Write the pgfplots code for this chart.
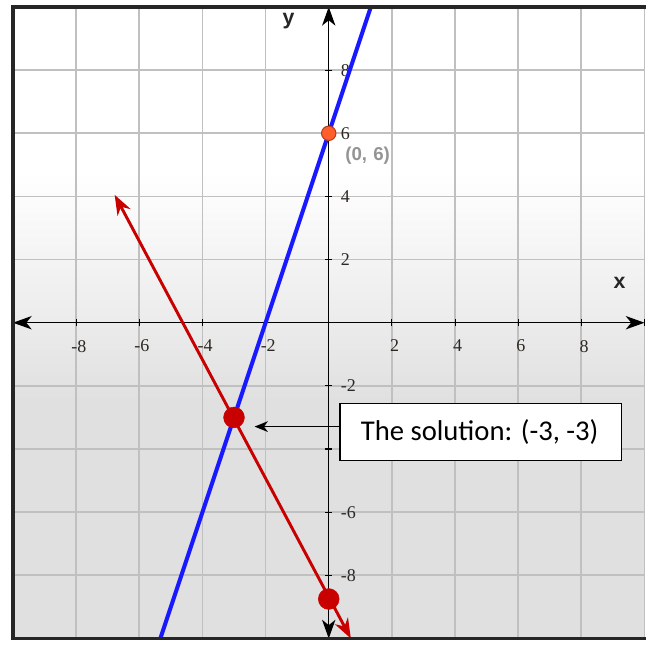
\documentclass[border=0pt]{standalone}
\usepackage{pgfplots}
\pgfplotsset{compat=1.18}
\usepackage{fontspec}
\setmainfont{Liberation Serif}
\newfontfamily\carlito{Carlito}
\newfontfamily\lsans{Liberation Sans}
\usetikzlibrary{arrows.meta}
\definecolor{myblue}{RGB}{25,25,255}
\definecolor{myred}{RGB}{200,0,0}
\definecolor{myorange}{RGB}{255,95,45}
\definecolor{myorangedk}{RGB}{190,60,20}
\definecolor{gridgray}{RGB}{192,192,192}
\definecolor{ticklab}{RGB}{45,40,35}
\pgfdeclareverticalshading{bgshade}{100bp}{color(0bp)=(black!12); color(44bp)=(black!12); color(51bp)=(black!7); color(62bp)=(white); color(100bp)=(white)}

\begin{document}
\begin{tikzpicture}
\begin{axis}[name=ax, scale only axis, width=474pt, height=474pt,
  xmin=-10, xmax=10, ymin=-10, ymax=10,
  axis lines*=middle,
  axis background/.style={shade, shading=bgshade},
  axis line style={black, line width=1.1pt, {Stealth[length=14pt,width=10pt,inset=4pt]}-{Stealth[length=14pt,width=10pt,inset=4pt]}},
  xtick={-10,-8,...,10}, ytick={-10,-8,...,10},
  xticklabels={,-8,-6,-4,-2,,2,4,6,8,},
  yticklabels={,-8,-6,,-2,,2,4,6,8,},
  grid=major,
  major grid style={gridgray, line width=1.3pt},
  tick style={black, line width=0.8pt},
  major tick length=5pt, tick align=center,
  /pgf/number format/assume math mode=true,
  ticklabel style={font=\fontsize{13.5}{15}\selectfont, text=ticklab},
  xticklabel style={anchor=north, yshift=-7pt, xshift=2pt},
  yticklabel style={anchor=west, xshift=8pt},
  clip=true,
]
\addplot[myblue, line width=3pt] coordinates {(-5.3333,-10) (1.3333,10)};
\addplot[myred, line width=2.2pt, {Stealth[length=15pt,width=11pt]}-{Stealth[length=15pt,width=11pt]}] coordinates {(-6.78,4.05) (0.7,-10.0)};
\addplot[only marks, mark=*, mark size=7.8pt, color=myred] coordinates {(-3,-3) (0,-8.75)};
\addplot[only marks, mark=*, mark size=5.4pt, draw=myorangedk, fill=myorange, line width=0.8pt] coordinates {(0,6)};

\node[text=black!42, font=\lsans\bfseries\fontsize{14}{16}\selectfont] at (axis cs:1.23,5.28) {(0,\,\,6)};
\node[text=black!85, font=\lsans\bfseries\fontsize{16}{18}\selectfont] at (axis cs:9.21,1.27) {x};
\node[text=black!85, font=\lsans\bfseries\fontsize{16}{18}\selectfont] at (axis cs:-1.27,9.56) {y};

\draw[black, line width=1.1pt, -{Stealth[length=10pt,width=8pt,inset=3pt]}] (axis cs:0.35,-3.29) -- (axis cs:-2.35,-3.29);
\draw[black, line width=1.1pt, fill=white] (axis cs:0.35,-2.56) rectangle (axis cs:9.27,-4.37);
\node[font=\carlito\fontsize{21.5}{24}\selectfont, text=black] at (axis cs:4.78,-3.47) {The solution: (-3, -3)};
\end{axis}
\draw[line width=2.4pt, black!85] ([xshift=2pt]ax.south east) -- (ax.south west) -- (ax.north west) -- ([xshift=2pt]ax.north east);
\pgfresetboundingbox
\path ([shift={(-9.75pt,-6.4pt)}]ax.south west) rectangle ([shift={(0.75pt,5.25pt)}]ax.north east);
\end{tikzpicture}
\end{document}
